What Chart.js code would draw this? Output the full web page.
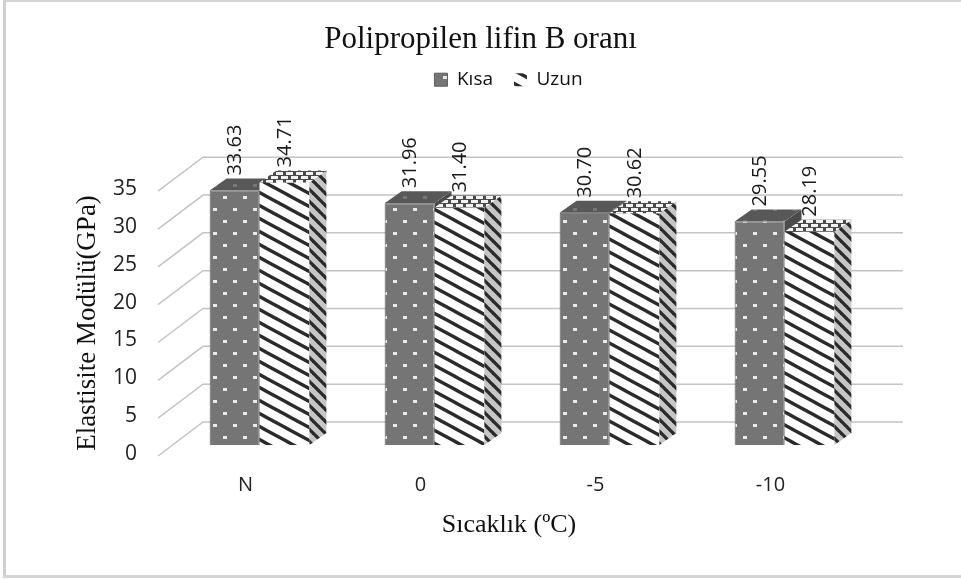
<!DOCTYPE html>
<html>
<head>
<meta charset="utf-8">
<style>
	html, body { margin: 0; padding: 0; background: #fff; overflow: hidden; }
	#frame { position: absolute; left: 3px; top: 0; right: 0; height: 573px; border-left: 3px solid #cfcfcf; border-top: 2px solid #d4d4d4; border-bottom: 3px solid #d4d4d4; }
	#chart { position: absolute; left: 0; top: 0; }
</style>
<script src="https://cdn.jsdelivr.net/npm/chart.js@4"></script>
</head>
<body>
<div id="frame"></div>
<canvas id="chart" width="961" height="579"></canvas>
<script>
const categories = ['N', '0', '-5', '-10'];
const kisa = [33.63, 31.96, 30.70, 29.55];
const uzun = [34.71, 31.40, 30.62, 28.19];
const yTicks = [0, 5, 10, 15, 20, 25, 30, 35];

// depth of the bars and of the walls, in pixels
const barDepth = { x: 17, y: -12 };
const wallBack = { x: 31, y: -23 };
const wallFront = { x: -14, y: 11 };

function makeTile(w, h, draw) {
	const c = document.createElement('canvas');
	c.width = w;
	c.height = h;
	draw(c.getContext('2d'));
	return c.getContext('2d').createPattern(c, 'repeat');
}

function dots(base, dot) {
	return makeTile(20, 24, (g) => {
		g.fillStyle = base;
		g.fillRect(0, 0, 20, 24);
		g.fillStyle = dot;
		g.fillRect(3, 4, 4, 3);
		g.fillRect(13, 16, 4, 3);
	});
}

function stripes(w, h, bg, fg, width) {
	return makeTile(w, h, (g) => {
		g.fillStyle = bg;
		g.fillRect(0, 0, w, h);
		g.strokeStyle = fg;
		g.lineWidth = width;
		for (let k = -1; k <= 1; k++) {
			g.beginPath();
			g.moveTo(-w, k * h - h);
			g.lineTo(2 * w, k * h + 2 * h);
			g.stroke();
		}
	});
}

function mesh() {
	return makeTile(10, 8, (g) => {
		g.fillStyle = '#4a4a4a';
		g.fillRect(0, 0, 10, 8);
		g.fillStyle = '#f2f2f2';
		g.fillRect(1, 0, 7, 3);
		g.fillRect(6, 4, 7, 3);
		g.fillRect(-4, 4, 7, 3);
	});
}

const kisaFront = dots('#757575', 'rgba(255,255,255,0.85)');
const kisaTop = dots('#585858', 'rgba(255,255,255,0.18)');
const kisaSide = '#4a4a4a';
const uzunFront = stripes(24, 13, '#ffffff', '#2a2a2a', 3.3);
const uzunSide = stripes(12, 12, '#c6c6c6', '#2a2a2a', 3.3);
const uzunTop = mesh();

function poly(ctx, pts, fill) {
	ctx.fillStyle = fill;
	ctx.beginPath();
	pts.forEach((p, i) => (i ? ctx.lineTo(p[0], p[1]) : ctx.moveTo(p[0], p[1])));
	ctx.closePath();
	ctx.fill();
}

function barFaces(chart, d, topFill, sideFill) {
	const ctx = chart.ctx;
	const base = chart.scales.y.getPixelForValue(0);
	const dx = barDepth.x;
	const dy = barDepth.y;
	chart.getDatasetMeta(d).data.forEach((bar) => {
		const l = bar.x - bar.width / 2;
		const r = bar.x + bar.width / 2;
		const t = bar.y;
		poly(ctx, [[r, t], [r + dx, t + dy], [r + dx, base + dy], [r, base]], sideFill);
		poly(ctx, [[l, t], [l + dx, t + dy], [r + dx, t + dy], [r, t]], topFill);
	});
}

function axisText(ctx, text, x, y, angle) {
	ctx.save();
	ctx.translate(x, y);
	ctx.rotate(angle);
	ctx.fillText(text, 0, 0);
	ctx.restore();
}

const depthPlugin = {
	id: 'depth',
	beforeLayout(chart) {
		// the plot starts well below the legend
		const legend = chart.legend;
		if (!legend.tallFit) {
			const fit = legend.fit;
			legend.fit = function () {
				fit.call(this);
				this.height = 131;
			};
			legend.tallFit = true;
		}
	},
	afterLayout(chart) {
		// legend sits right of the centre in the original
		chart.legend.left += 56;
	},
	beforeDatasetsDraw(chart) {
		const { ctx, scales, chartArea } = chart;
		ctx.save();
		ctx.strokeStyle = '#c4c4c4';
		ctx.lineWidth = 1.5;
		yTicks.forEach((t) => {
			const y = scales.y.getPixelForValue(t);
			ctx.beginPath();
			ctx.moveTo(chartArea.left + wallFront.x, y + wallFront.y);
			ctx.lineTo(chartArea.left + wallBack.x, y + wallBack.y);
			ctx.lineTo(chartArea.right + wallBack.x, y + wallBack.y);
			ctx.stroke();
		});
		barFaces(chart, 0, kisaTop, kisaSide);
		ctx.restore();
	},
	afterDatasetsDraw(chart) {
		const ctx = chart.ctx;
		ctx.save();
		barFaces(chart, 1, uzunTop, uzunSide);
		ctx.fillStyle = '#1a1a1a';
		ctx.font = '20px "Open Sans"';
		ctx.textAlign = 'left';
		ctx.textBaseline = 'middle';
		[kisa, uzun].forEach((vals, d) => {
			chart.getDatasetMeta(d).data.forEach((bar, i) => {
				axisText(ctx, vals[i].toFixed(2), bar.x + 1, bar.y + barDepth.y - 3, -Math.PI / 2);
			});
		});
		ctx.fillStyle = '#111';
		ctx.font = '27px "Liberation Serif"';
		ctx.textAlign = 'center';
		axisText(ctx, 'Elastisite Modülü(GPa)', 88, 323, -Math.PI / 2);
		ctx.font = '26px "Liberation Serif"';
		axisText(ctx, 'Sıcaklık (ºC)', 509, 525, 0);
		ctx.restore();
	},
};

new Chart(document.getElementById('chart'), {
	type: 'bar',
	data: {
		labels: categories,
		datasets: [
			{ label: 'Kısa', data: kisa, backgroundColor: kisaFront, borderColor: '#5e5e5e', borderWidth: 1 },
			{ label: 'Uzun', data: uzun, backgroundColor: uzunFront, borderWidth: 0 },
		],
	},
	options: {
		responsive: false,
		animation: false,
		datasets: { bar: { categoryPercentage: 0.57, barPercentage: 1 } },
		plugins: {
			title: {
				display: true,
				text: 'Polipropilen lifin B oranı',
				color: '#111',
				font: { family: '"Liberation Serif"', size: 31, weight: 'normal' },
				padding: { top: 21, bottom: -9 },
			},
			legend: {
				display: true,
				labels: {
					boxWidth: 13,
					boxHeight: 13,
					color: '#111',
					font: { family: '"Open Sans"', size: 19 },
					padding: 21,
				},
			},
			tooltip: { enabled: false },
		},
		scales: {
			x: {
				afterFit(scale) { scale.height = 134; },
				grid: { display: false },
				border: { display: false },
				ticks: { color: '#222', font: { family: '"Open Sans"', size: 20 }, padding: 20, labelOffset: -14 },
			},
			y: {
				min: 0,
				max: 35,
				afterFit(scale) { scale.width = 172; },
				afterBuildTicks(scale) { scale.ticks = yTicks.map((v) => ({ value: v })); },
				grid: { display: false },
				border: { display: false },
				ticks: { color: '#222', font: { family: '"Open Sans"', size: 21 }, padding: 27, labelOffset: 9 },
			},
			// empty axis, keeps the room on the right for the back wall
			y2: {
				position: 'right',
				afterFit(scale) { scale.width = 89; },
				grid: { display: false },
				border: { display: false },
				ticks: { display: false },
			},
		},
	},
	plugins: [depthPlugin],
});
</script>
</body>
</html>
